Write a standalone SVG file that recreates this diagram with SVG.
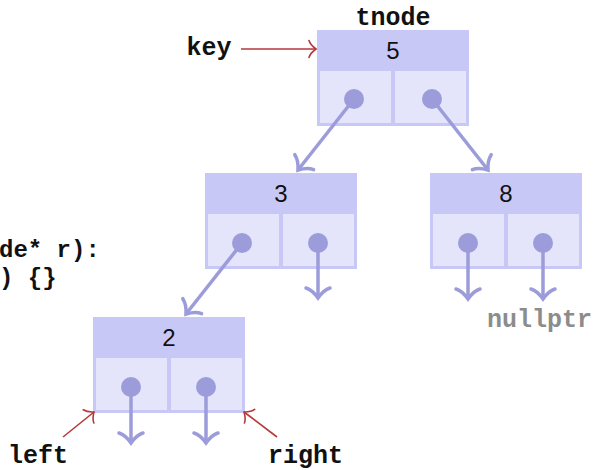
<svg xmlns="http://www.w3.org/2000/svg" width="596" height="470" viewBox="0 0 596 470">
<style>
.hdr{fill:#c8c8f7}
.cells{fill:#e4e4fa;stroke:#c8c8f7;stroke-width:3}
.div{stroke:#c8c8f7;stroke-width:4}
.dot{fill:#9c9cdb}
.val{font-family:"Liberation Sans",Arial,sans-serif;font-size:24px;fill:#111;text-anchor:middle}
.tt{font-family:"Liberation Mono","DejaVu Sans Mono",monospace;font-size:25px;font-weight:bold;fill:#111}
.code{font-size:24px}
.ptr{stroke:#9c9cdb;stroke-width:3.5;fill:none}
.red{stroke:#b5393a;stroke-width:1.6;fill:none}
</style>
<defs>
<marker id="to" markerUnits="userSpaceOnUse" orient="auto" overflow="visible" markerWidth="1" markerHeight="1">
<path d="M-10,-12 C-8.1,-6 -1,-0.7 0,0 C-1,0.7 -8.1,6 -10,12" fill="none" stroke="#9c9cdb" stroke-width="3.5" stroke-linecap="round"/>
</marker>
<marker id="tor" markerUnits="userSpaceOnUse" orient="auto" overflow="visible" markerWidth="1" markerHeight="1">
<path d="M-7,-8.5 C-5.7,-4.2 -0.7,-0.5 0,0 C-0.7,0.5 -5.7,4.2 -7,8.5" fill="none" stroke="#b5393a" stroke-width="1.6" stroke-linecap="round"/>
</marker>
<g id="nodeshape">
<rect class="hdr" x="0" y="0" width="152" height="38"/>
<rect class="cells" x="1.5" y="39.5" width="149" height="55"/>
<line class="div" x1="76" y1="38" x2="76" y2="96"/>
</g>
</defs>

<text class="tt code" x="-1" y="257">de* r):</text>
<text class="tt code" x="-1" y="285">) {}</text>

<g id="n5" transform="translate(317,30)">
<use href="#nodeshape"/>
<text class="val" x="76" y="28.5">5</text>
</g>
<g id="n3" transform="translate(205,173)">
<use href="#nodeshape"/>
<text class="val" x="76" y="28.5">3</text>
</g>
<g id="n8" transform="translate(430,173)">
<use href="#nodeshape"/>
<text class="val" x="76" y="28.5">8</text>
</g>
<g id="n2" transform="translate(93,317)">
<use href="#nodeshape"/>
<text class="val" x="76" y="28.5">2</text>
</g>

<g id="connectors">
<line class="ptr" x1="354" y1="99" x2="298" y2="170" marker-end="url(#to)"/>
<line class="ptr" x1="432" y1="99" x2="488" y2="170" marker-end="url(#to)"/>
<line class="ptr" x1="242" y1="243" x2="186" y2="314" marker-end="url(#to)"/>
<line class="ptr" x1="318" y1="243" x2="318" y2="298" marker-end="url(#to)"/>
<line class="ptr" x1="468" y1="243" x2="468" y2="299" marker-end="url(#to)"/>
<line class="ptr" x1="543" y1="243" x2="543" y2="299" marker-end="url(#to)"/>
<line class="ptr" x1="131" y1="387" x2="131" y2="443" marker-end="url(#to)"/>
<line class="ptr" x1="206" y1="387" x2="206" y2="443" marker-end="url(#to)"/>
<line class="red" x1="241" y1="49" x2="316" y2="49" marker-end="url(#tor)"/>
<line class="red" x1="63" y1="437" x2="94" y2="412" marker-end="url(#tor)"/>
<line class="red" x1="277" y1="437" x2="244" y2="412" marker-end="url(#tor)"/>
</g>

<g id="dots">
<circle class="dot" cx="354" cy="99" r="10"/>
<circle class="dot" cx="432" cy="99" r="10"/>
<circle class="dot" cx="242" cy="243" r="10"/>
<circle class="dot" cx="318" cy="243" r="10"/>
<circle class="dot" cx="468" cy="243" r="10"/>
<circle class="dot" cx="543" cy="243" r="10"/>
<circle class="dot" cx="131" cy="387" r="10"/>
<circle class="dot" cx="206" cy="387" r="10"/>
</g>

<text class="tt" x="393" y="25" text-anchor="middle">tnode</text>
<text class="tt" x="209" y="55" text-anchor="middle">key</text>
<text class="tt" x="8" y="463">left</text>
<text class="tt" x="268" y="463">right</text>
<text class="tt" x="487" y="327" style="fill:#8c8c8c">nullptr</text>
</svg>
